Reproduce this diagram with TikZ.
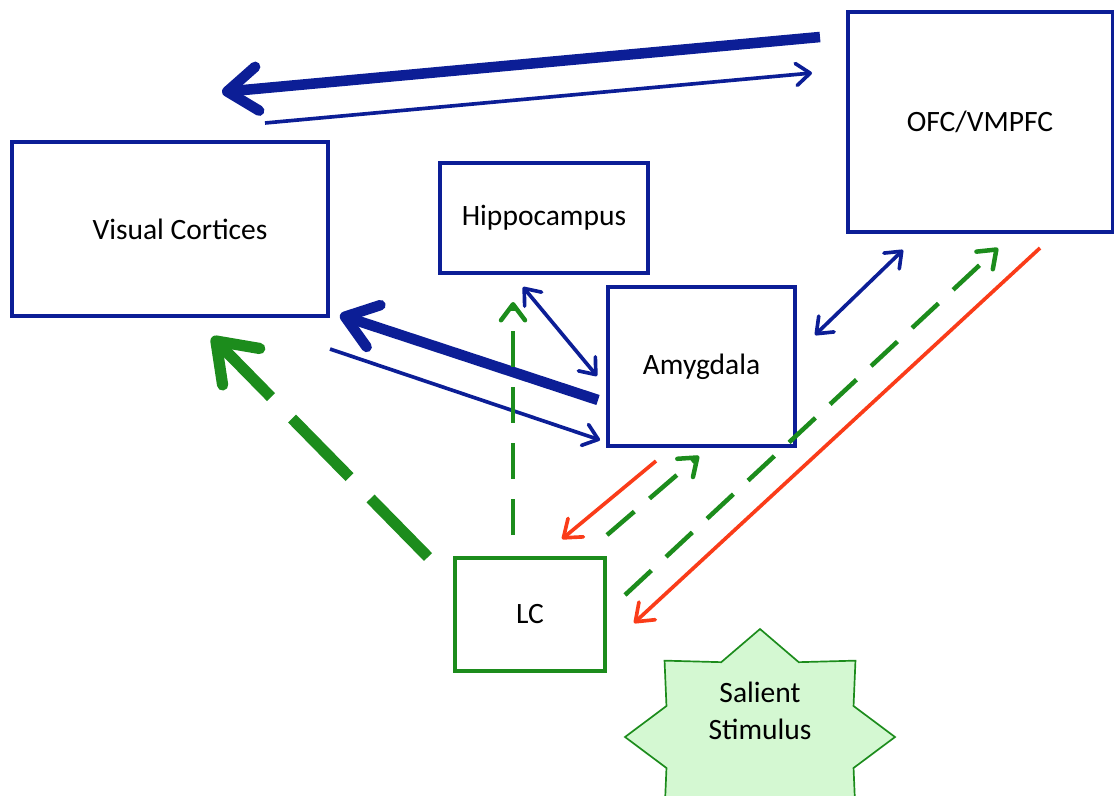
\documentclass[tikz,border=0pt]{standalone}
\usepackage{fontspec}
\setmainfont{Carlito}
\usetikzlibrary{arrows.meta}

\definecolor{roiblue}{RGB}{12,30,150}
\definecolor{lcgreen}{RGB}{28,140,28}
\definecolor{nered}{RGB}{250,60,25}
\definecolor{stimfill}{RGB}{212,248,210}

\begin{document}
\begin{tikzpicture}[x=0.025cm, y=-0.025cm, font=\fontsize{21}{26}\selectfont,
    area node/.style={rectangle,draw=roiblue,line width=2.2pt,inner sep=0pt,align=center},
    lc node/.style={rectangle,draw=lcgreen,line width=2.2pt,inner sep=0pt},
    thick blue/.style={draw=roiblue,line width=7.5pt,-{Straight Barb[round,length=0.75cm,width=1.1cm]}},
    thin blue/.style={draw=roiblue,line width=2.6pt,-{Straight Barb[round,length=0.35cm,width=0.55cm]}},
    both blue/.style={draw=roiblue,line width=2.6pt,{Straight Barb[round,length=0.35cm,width=0.55cm]}-{Straight Barb[round,length=0.35cm,width=0.55cm]}},
    big green/.style={draw=lcgreen,line width=8pt,dash pattern=on 2.05cm off 0.75cm,-{Straight Barb[round,length=0.9cm,width=1.3cm]}},
    thin green/.style={draw=lcgreen,line width=3.2pt,dash pattern=on 0.9cm off 0.5cm,-{Straight Barb[round,length=0.4cm,width=0.6cm]}},
    thin red/.style={draw=nered,line width=2.6pt,-{Straight Barb[round,length=0.4cm,width=0.6cm]}}]

  \useasboundingbox (0,0) rectangle (1116,795);

  % regions
  \node[area node,minimum width=7.9cm,minimum height=4.35cm] (vis) at (170,229) {\hspace{0.5cm}Visual Cortices};
  \node[area node,minimum width=5.2cm,minimum height=2.75cm] (hip) at (544,218) {Hippocampus};
  \node[area node,minimum width=4.675cm,minimum height=3.975cm] (amy) at (701.5,366.5) {Amygdala};
  \node[area node,minimum width=6.6cm,minimum height=5.5cm] (ofc) at (980,122) {OFC/VMPFC};
  \node[lc node,minimum width=3.75cm,minimum height=2.825cm] (lc) at (530,614.5) {LC};

  % stimulus
  \filldraw[fill=stimfill,draw=lcgreen,line width=1.2pt,shift={(760,737)}]
    (90:135 and 108) \foreach \a in {1,...,15}{
      -- ({90+22.5*\a}:{135*(1-0.25*mod(\a,2))} and {108*(1-0.25*mod(\a,2))})} -- cycle;
  \node[align=center] (stim) at (760,711) {Salient\\Stimulus};

  % connector ends
  \coordinate (ofc out) at (820,37);
  \coordinate (vis in) at (222,92);
  \coordinate (vis out) at (265,123);
  \coordinate (ofc in) at (812,73);
  \coordinate (amy out) at (598,400);
  \coordinate (vis in2) at (340,315);
  \coordinate (vis out2) at (330,349);
  \coordinate (amy in) at (600,440);
  \coordinate (hip a) at (523,287);
  \coordinate (amy a) at (597,376);
  \coordinate (amy b) at (815,335);
  \coordinate (ofc b) at (903,250);
  \coordinate (lc a) at (428,557);
  \coordinate (vis c) at (212,337);
  \coordinate (lc b) at (513,535);
  \coordinate (hip c) at (513,302);
  \coordinate (lc c) at (607,535);
  \coordinate (amy c) at (699,456);
  \coordinate (lc d) at (625,595);
  \coordinate (ofc c) at (998,248);
  \coordinate (amy d) at (656,461);
  \coordinate (lc e) at (562,539);
  \coordinate (ofc d) at (1040,248);
  \coordinate (lc f) at (634,623);

  \draw[thick blue] (ofc out) -- (vis in);
  \draw[thin blue] (vis out) -- (ofc in);
  \draw[thick blue] (amy out) -- (vis in2);
  \draw[thin blue] (vis out2) -- (amy in);
  \draw[both blue] (hip a) -- (amy a);
  \draw[both blue] (amy b) -- (ofc b);
  \draw[big green] (lc a) -- (vis c);
  \draw[thin green] (lc b) -- (hip c);
  \draw[thin green] (lc c) -- (amy c);
  \draw[thin green] (lc d) -- (ofc c);
  \draw[thin red] (amy d) -- (lc e);
  \draw[thin red] (ofc d) -- (lc f);
\end{tikzpicture}
\end{document}
